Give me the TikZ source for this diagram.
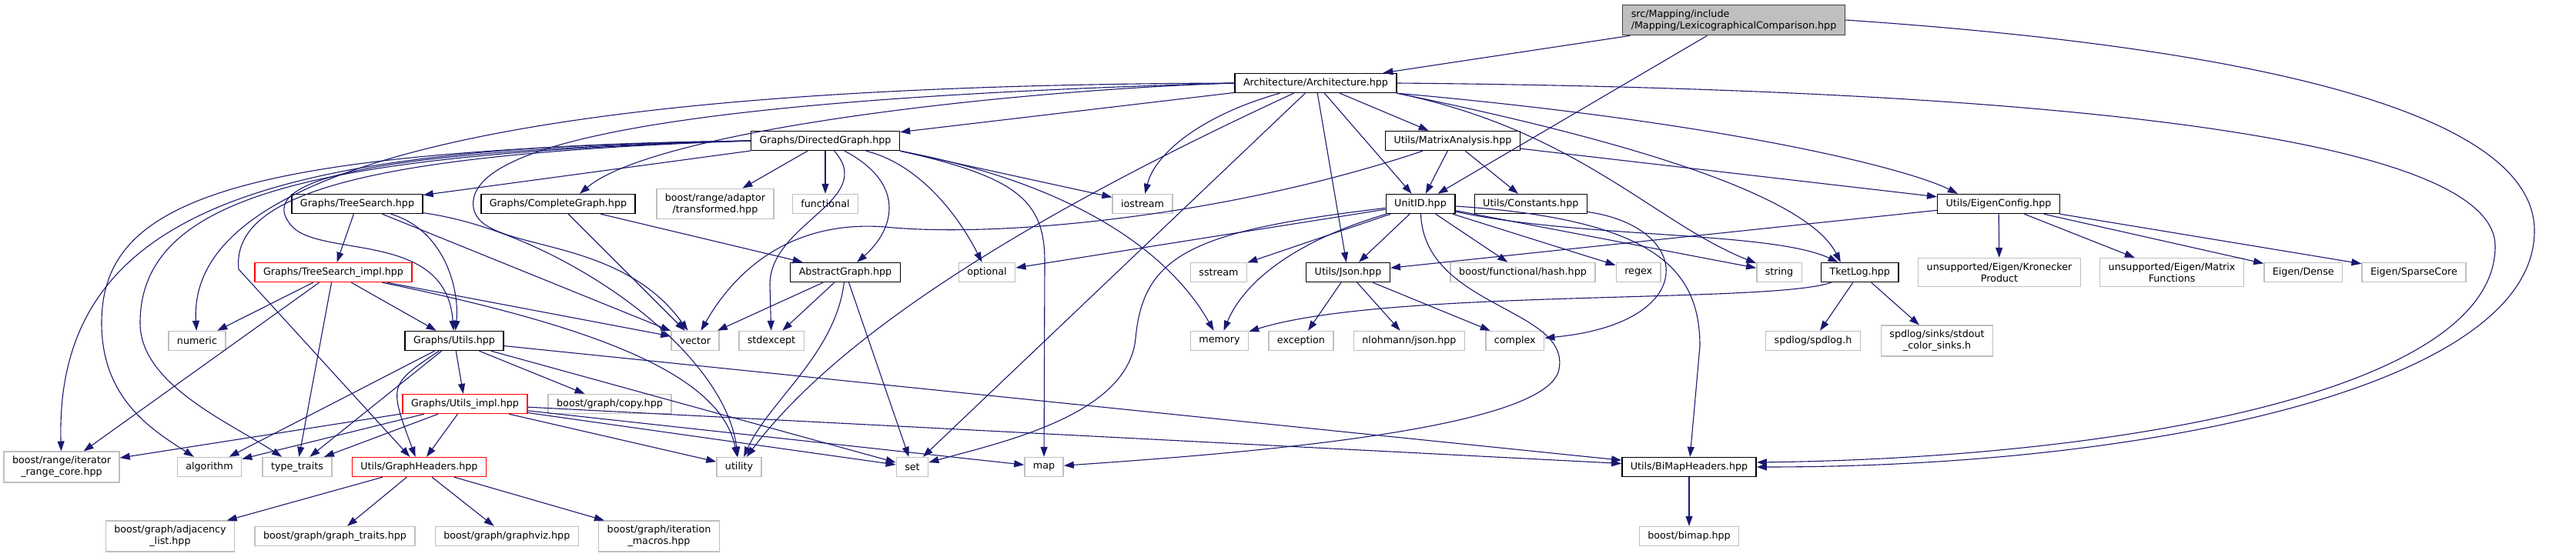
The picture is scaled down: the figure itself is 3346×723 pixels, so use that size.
\documentclass[tikz,border=0pt]{standalone}
\usepackage{fontspec}
\setmainfont{DejaVu Sans}
\usepackage{xcolor}
\definecolor{EdgeBlue}{HTML}{191970}
\definecolor{SysGrey}{HTML}{BFBFBF}
\definecolor{RootGrey}{HTML}{BFBFBF}
\definecolor{DocBorder}{HTML}{404040}
\usepackage{tikz}
\usetikzlibrary{arrows.meta, positioning}
\tikzstyle{filenode} = [rectangle, draw=black, fill=white, text=black, line width=1.4pt, inner xsep=11pt, inner ysep=6pt, minimum height=25pt, align=center, font=\fontsize{12.7}{15}\selectfont]
\tikzstyle{sysnode} = [filenode, draw=SysGrey]
\tikzstyle{cutnode} = [filenode, draw=red]
\tikzstyle{rootnode} = [filenode, fill=RootGrey, draw=DocBorder, align=left]
\tikzstyle{inc} = [-{Triangle[length=13pt,width=9pt]}, color=EdgeBlue, line width=1.1pt]

\begin{document}
\begin{tikzpicture}[x=1pt, y=-1pt]
        \fill[white] (0,0) rectangle (3346,723);
        \useasboundingbox (0,0) rectangle (3346,723);

        % Files
        \node [rootnode] (lex) at (2252,26) {src/Mapping/include\\/Mapping/LexicographicalComparison.hpp};
        \node [filenode] (arch) at (1709,108) {Architecture/Architecture.hpp};
        \node [filenode] (dg) at (1072,183) {Graphs/DirectedGraph.hpp};
        \node [filenode] (ma) at (1887,183) {Utils/MatrixAnalysis.hpp};

        \node [filenode] (ts) at (464,265) {Graphs/TreeSearch.hpp};
        \node [filenode] (cg) at (725,265) {Graphs/CompleteGraph.hpp};
        \node [sysnode] (transf) at (929,265) {boost/range/adaptor\\/transformed.hpp};
        \node [sysnode] (functional) at (1072,265) {functional};
        \node [sysnode] (iostream) at (1484,265) {iostream};
        \node [filenode] (unitid) at (1845,265) {UnitID.hpp};
        \node [filenode, right=24pt of unitid] (consts) {Utils/Constants.hpp};
        \node [filenode] (eigen) at (2596,265) {Utils/EigenConfig.hpp};

        \node [cutnode] (tsimpl) at (433,354) {Graphs/TreeSearch\_impl.hpp};
        \node [filenode] (absg) at (1098,354) {AbstractGraph.hpp};
        \node [sysnode] (optional) at (1282,354) {optional};
        \node [sysnode] (sstream) at (1583,354) {sstream};
        \node [filenode] (json) at (1751,354) {Utils/Json.hpp};
        \node [sysnode] (hash) at (1978,354) {boost/functional/hash.hpp};
        \node [sysnode, right=26pt of hash] (regex) {regex};
        \node [sysnode] (string) at (2311,354) {string};
        \node [filenode, right=24pt of string] (tketlog) {TketLog.hpp};
        \node [sysnode] (kron) at (2597,354) {unsupported/Eigen/Kronecker\\Product};
        \node [sysnode, right=24pt of kron] (matfun) {unsupported/Eigen/Matrix\\Functions};
        \node [sysnode, right=25pt of matfun] (dense) {Eigen/Dense};
        \node [sysnode, right=24pt of dense] (sparse) {Eigen/SparseCore};

        \node [sysnode] (numeric) at (256,443) {numeric};
        \node [filenode] (utils) at (590,443) {Graphs/Utils.hpp};
        \node [sysnode] (vector) at (903,443) {vector};
        \node [sysnode] (stdexcept) at (1002,443) {stdexcept};
        \node [sysnode] (memory) at (1584,443) {memory};
        \node [sysnode, right=25pt of memory] (exception) {exception};
        \node [sysnode, right=25pt of exception] (nlohmann) {nlohmann/json.hpp};
        \node [sysnode, right=26pt of nlohmann] (complex) {complex};
        \node [sysnode] (spdlog) at (2355,443) {spdlog/spdlog.h};
        \node [sysnode] (sinks) at (2516,443) {spdlog/sinks/stdout\\\_color\_sinks.h};

        \node [cutnode] (utilsimpl) at (604,525) {Graphs/Utils\_impl.hpp};
        \node [sysnode] (copy) at (792,525) {boost/graph/copy.hpp};

        \node [sysnode] (itrange) at (80,607) {boost/range/iterator\\\_range\_core.hpp};
        \node [sysnode] (algorithm) at (272,607) {algorithm};
        \node [sysnode, right=26pt of algorithm] (typetraits) {type\_traits};
        \node [cutnode, right=25pt of typetraits] (gh) {Utils/GraphHeaders.hpp};
        \node [sysnode] (utility) at (960,607) {utility};
        \node [sysnode] (set) at (1185,607) {set};
        \node [sysnode] (map) at (1356,607) {map};
        \node [filenode] (bimap) at (2194,607) {Utils/BiMapHeaders.hpp};

        \node [sysnode] (adj) at (221,697) {boost/graph/adjacency\\\_list.hpp};
        \node [sysnode, right=25pt of adj] (gtraits) {boost/graph/graph\_traits.hpp};
        \node [sysnode, right=25pt of gtraits] (gviz) {boost/graph/graphviz.hpp};
        \node [sysnode, right=25pt of gviz] (iter) {boost/graph/iteration\\\_macros.hpp};
        \node [sysnode] (bimaphpp) at (2194,697) {boost/bimap.hpp};

        % Includes of the main file
        \draw [inc] (lex) -- (arch);
        \draw [inc] (lex) -- (unitid);
        \draw [inc] (lex.east) .. controls (2900,60) and (3292,140) .. (3292,300) .. controls (3292,500) and (2800,607) .. (bimap.east);

        % Architecture
        \draw [inc] (arch) -- (dg);
        \draw [inc] (arch.west) .. controls (1300,118) and (850,170) .. ([xshift=28pt]cg.north);
        \draw [inc] (arch.west) .. controls (900,110) and (240,170) .. (numeric);
        \draw [inc] (arch.west) .. controls (1000,125) and (600,170) .. (615,270) .. controls (625,330) and (800,300) .. (vector);
        \draw [inc] (arch) .. controls (1560,150) and (1500,200) .. (iostream);
        \draw [inc] (arch) .. controls (1380,260) and (1100,420) .. (utility);
        \draw [inc] (arch) -- (set);
        \draw [inc] (arch) -- (json);
        \draw [inc] (arch) -- (unitid);
        \draw [inc] (arch) -- (ma);
        \draw [inc] (arch.south east) .. controls (2050,170) and (2150,290) .. (string);
        \draw [inc] (arch.south east) .. controls (2150,190) and (2350,260) .. ([xshift=-25pt]tketlog.north);
        \draw [inc] (arch.south east) .. controls (2250,160) and (2480,220) .. ([xshift=27pt]eigen.north west);
        \draw [inc] (arch.east) .. controls (2600,115) and (3241,170) .. (3241,320) .. controls (3241,510) and (2750,595) .. ([yshift=6pt]bimap.east);

        % MatrixAnalysis
        \draw [inc] (ma) -- (unitid);
        \draw [inc] (ma) -- (consts);
        \draw [inc] (ma) -- (eigen);
        \draw [inc] (ma) .. controls (1600,280) and (1300,310) .. (1150,295) .. controls (1020,285) and (950,360) .. (vector);

        % DirectedGraph
        \draw [inc] (dg) -- (ts);
        \draw [inc] (dg) -- (transf);
        \draw [inc] (dg) -- (functional);
        \draw [inc] (dg) .. controls (1180,240) and (1160,300) .. (absg);
        \draw [inc] (dg) .. controls (1200,215) and (1250,290) .. (optional);
        \draw [inc] (dg.south east) -- (iostream);
        \draw [inc] (dg.south east) .. controls (1400,240) and (1520,330) .. (memory);
        \draw [inc] (dg.south east) .. controls (1320,230) and (1357,260) .. (1357,340) -- (map);
        \draw [inc] (dg) .. controls (1140,260) and (1000,290) .. (1000,370) -- (stdexcept);
        \draw [inc] (dg.west) .. controls (400,190) and (70,250) .. (itrange);
        \draw [inc] (dg.west) .. controls (300,195) and (132,260) .. (132,420) .. controls (132,520) and (200,560) .. (algorithm);
        \draw [inc] (dg.west) .. controls (420,200) and (182,250) .. (182,420) .. controls (182,500) and (300,550) .. (typetraits);
        \draw [inc] (dg.west) .. controls (480,200) and (300,250) .. (310,350) -- (gh);
        \draw [inc] (dg.west) .. controls (500,195) and (320,230) .. (380,295) .. controls (420,335) and (580,300) .. (utils);

        % TreeSearch and CompleteGraph
        \draw [inc] (ts) -- (tsimpl);
        \draw [inc] (ts) -- (vector);
        \draw [inc] (ts) .. controls (580,300) and (597,380) .. (utils);
        \draw [inc] (ts) .. controls (720,300) and (940,450) .. (utility);
        \draw [inc] (cg) -- (absg);
        \draw [inc] (cg) -- (vector);

        % TreeSearch_impl
        \draw [inc] (tsimpl) -- (numeric);
        \draw [inc] (tsimpl) -- (itrange);
        \draw [inc] (tsimpl) -- (typetraits);
        \draw [inc] (tsimpl) -- (utils);
        \draw [inc] (tsimpl) -- (vector);
        \draw [inc] (tsimpl) .. controls (750,420) and (935,480) .. (utility);

        % AbstractGraph
        \draw [inc] (absg) -- (vector);
        \draw [inc] (absg) -- (stdexcept);
        \draw [inc] (absg) .. controls (1085,460) and (1000,520) .. (utility);
        \draw [inc] (absg) -- (set);

        % Utils
        \draw [inc] (utils) -- (algorithm);
        \draw [inc] (utils) -- (typetraits);
        \draw [inc] (utils) .. controls (505,500) .. (gh);
        \draw [inc] (utils) -- (utilsimpl);
        \draw [inc] (utils) -- (copy);
        \draw [inc] (utils) -- (set);
        \draw [inc] (utils) -- (bimap);

        % Utils_impl
        \draw [inc] (utilsimpl) -- (itrange);
        \draw [inc] (utilsimpl) -- (algorithm);
        \draw [inc] (utilsimpl) -- (typetraits);
        \draw [inc] (utilsimpl) -- (gh);
        \draw [inc] (utilsimpl) -- (utility);
        \draw [inc] (utilsimpl) -- (set);
        \draw [inc] (utilsimpl) -- (map);
        \draw [inc] (utilsimpl) -- (bimap);

        % GraphHeaders
        \draw [inc] (gh) -- (adj);
        \draw [inc] (gh) -- (gtraits);
        \draw [inc] (gh) -- (gviz);
        \draw [inc] (gh) -- (iter);

        % UnitID
        \draw [inc] (unitid) -- (json);
        \draw [inc] (unitid) -- (hash);
        \draw [inc] (unitid) -- (regex);
        \draw [inc] (unitid) -- (string);
        \draw [inc] (unitid) .. controls (2050,310) and (2300,300) .. (tketlog);
        \draw [inc] (unitid) -- (sstream);
        \draw [inc] (unitid) -- (optional);
        \draw [inc] (unitid) .. controls (1660,320) and (1610,380) .. (memory);
        \draw [inc] (unitid) .. controls (1550,300) and (1485,330) .. (1475,440) .. controls (1465,540) and (1300,575) .. (set);
        \draw [inc] (unitid) .. controls (1850,400) and (2040,400) .. (2025,480) .. controls (2010,560) and (1600,590) .. (map);
        \draw [inc] (unitid) .. controls (2150,285) and (2208,350) .. (2208,450) -- (bimap);

        % Constants, Json, EigenConfig
        \draw [inc] (consts) .. controls (2200,295) and (2210,420) .. (complex);
        \draw [inc] (json) -- (nlohmann);
        \draw [inc] (json) -- (complex);
        \draw [inc] (json) -- (exception);
        \draw [inc] (eigen) -- (json);
        \draw [inc] (eigen) -- (kron);
        \draw [inc] (eigen) -- (matfun);
        \draw [inc] (eigen) -- (dense);
        \draw [inc] (eigen) -- (sparse);

        % TketLog and BiMapHeaders
        \draw [inc] (tketlog) -- (spdlog);
        \draw [inc] (tketlog) -- (sinks);
        \draw [inc] (tketlog) .. controls (2300,395) and (1800,375) .. (memory);
        \draw [inc] (bimap) -- (bimaphpp);
    \end{tikzpicture}
\end{document}
